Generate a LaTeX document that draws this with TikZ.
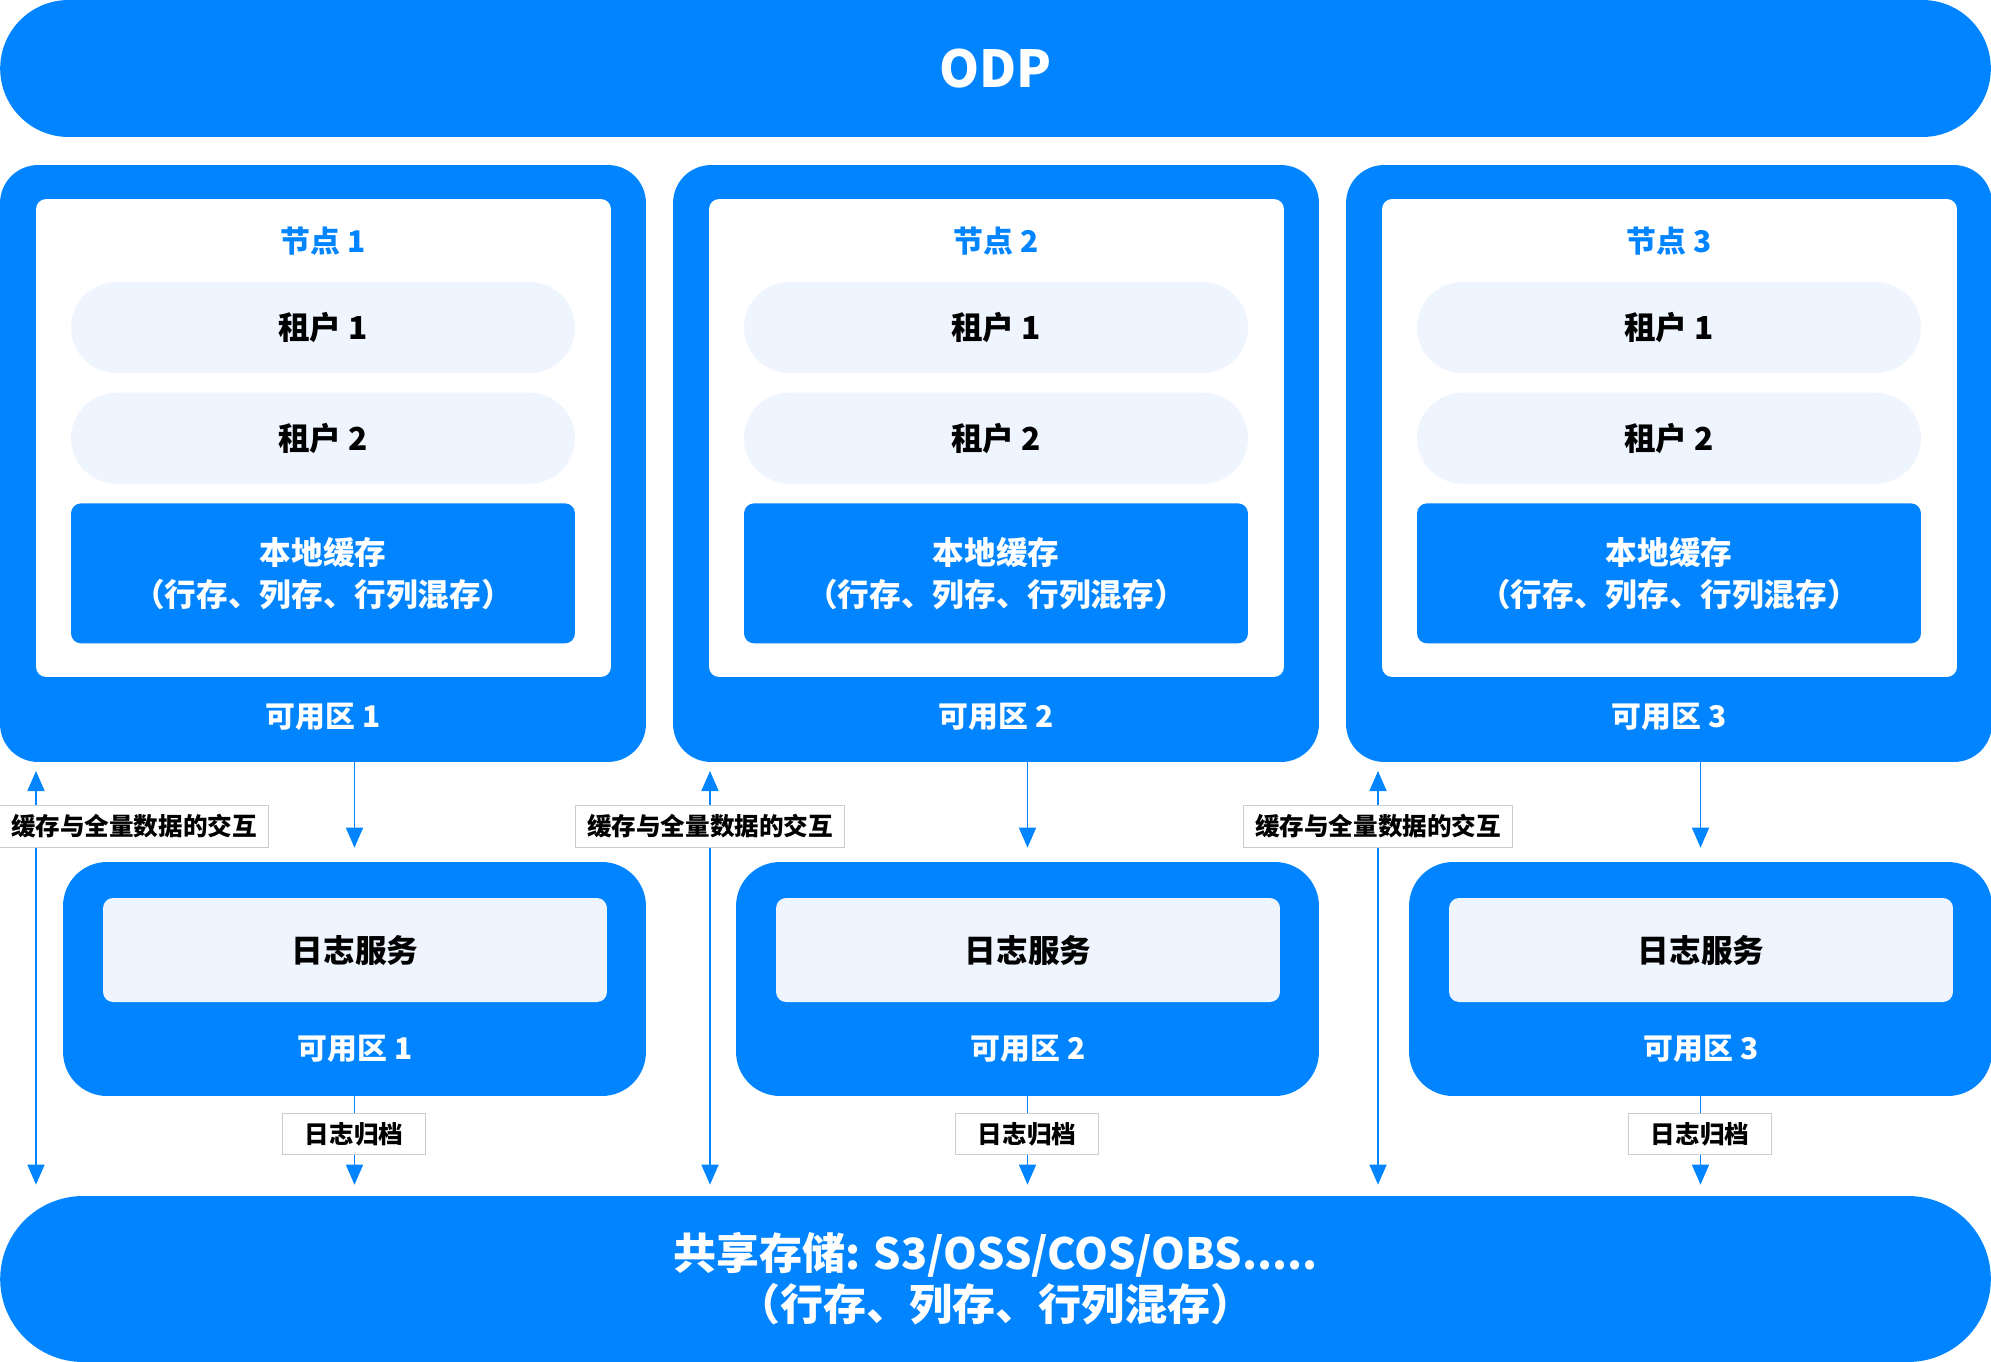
\documentclass[tikz,border=0pt]{standalone}
\usepackage{fontspec}
\setmainfont{Noto Sans CJK SC}
\usepackage{xcolor}
\usepackage{tikz}
\usetikzlibrary{arrows.meta}
\usetikzlibrary{calc}
\usetikzlibrary{positioning}

\definecolor{odpblue}{HTML}{0084FF}
\definecolor{paleblue}{HTML}{EEF5FF}
\definecolor{tagline}{HTML}{CCCCCC}

\begin{document}
\begin{tikzpicture}[x=0.02cm, y=-0.02cm, >={Triangle[width=0.34cm, length=0.4cm]},
	bar/.style={rectangle, fill=odpblue, text=white, minimum width=39.82cm,
				inner sep=0pt, align=center},
	zone/.style={rectangle, rounded corners=0.76cm, fill=odpblue,
				minimum width=12.92cm, minimum height=11.94cm},
	inner/.style={rectangle, rounded corners=0.2cm, fill=white,
				minimum width=11.5cm, minimum height=9.56cm},
	nodelabel/.style={text=odpblue, font=\fontsize{17}{20}\selectfont\bfseries},
	tenant/.style={rectangle, rounded corners=0.91cm, fill=paleblue,
				minimum width=10.08cm, minimum height=1.82cm, inner sep=0pt,
				font=\fontsize{18}{22}\selectfont\bfseries},
	cache/.style={rectangle, rounded corners=0.2cm, fill=odpblue, text=white,
				minimum width=10.08cm, minimum height=2.8cm, inner sep=0pt, align=center,
				font=\fontsize{18}{24}\selectfont\bfseries},
	zonelabel/.style={text=white, font=\fontsize{17}{20}\selectfont\bfseries},
	logzone/.style={rectangle, rounded corners=0.88cm, fill=odpblue,
				minimum width=11.66cm, minimum height=4.68cm},
	logsvc/.style={rectangle, rounded corners=0.2cm, fill=paleblue,
				minimum width=10.08cm, minimum height=2.08cm, inner sep=0pt,
				font=\fontsize{18}{22}\selectfont\bfseries},
	tag/.style={rectangle, draw=tagline, line width=0.5pt, fill=white, inner sep=0pt,
				minimum height=0.83cm, font=\fontsize{14}{16}\selectfont\bfseries},
	flow/.style={draw=odpblue, line width=0.9pt},
]
\useasboundingbox (0,0) rectangle (1991,1362);

\node [bar, minimum height=2.74cm, rounded corners=1.37cm,
	font=\fontsize{29}{34}\selectfont\bfseries] (odp) at (995.5,68.5) {ODP};
\node [bar, minimum height=3.32cm, rounded corners=1.66cm,
	font=\fontsize{24.5}{29}\selectfont\bfseries] (store) at (995.5,1279)
	{共享存储: S3/OSS/COS/OBS.....\\（行存、列存、行列混存）};
%
\foreach \i/\x/\a/\t in {1/0/36/134, 2/673/37/710, 3/1346/32/1378} {
	\node [zone]      (z\i)  at (\x+323,463.5) {};
	\node [inner]     (w\i)  at (\x+323.5,438) {};
	\node [nodelabel] (n\i)  at (\x+323,241) {节点 \i};
	\node [tenant]    (ta\i) at (\x+323,327.5) {租户 1};
	\node [tenant]    (tb\i) [below=0.38cm of ta\i] {租户 2};
	\node [cache]     (c\i)  [below=0.38cm of tb\i] {本地缓存\\（行存、列存、行列混存）};
	\node [zonelabel] (zl\i) at (\x+323,717) {可用区 \i};
	%
	\node [logzone]   (lz\i) at (\x+354.5,979) {};
	\node [logsvc]    (ls\i) at (\x+355,950) {日志服务};
	\node [zonelabel] (ll\i) at (\x+355,1049) {可用区 \i};
	%
	\draw [flow, ->, shorten >=0.28cm] (z\i.south -| lz\i.north) -- (lz\i.north);
	\draw [flow, ->, shorten >=0.22cm] (lz\i.south) -- (lz\i.south |- store.north);
	\node [tag, minimum width=2.86cm] (a\i) at (\x+354,1134) {日志归档};
	%
	\coordinate (x\i) at (\x+\a,762);
	\draw [flow, <->, shorten <=0.18cm, shorten >=0.22cm] (x\i) -- (x\i |- store.north);
	\node [tag, minimum width=5.38cm] (d\i) at (\t,826.5) {缓存与全量数据的交互};
}
\end{tikzpicture}
\end{document}
